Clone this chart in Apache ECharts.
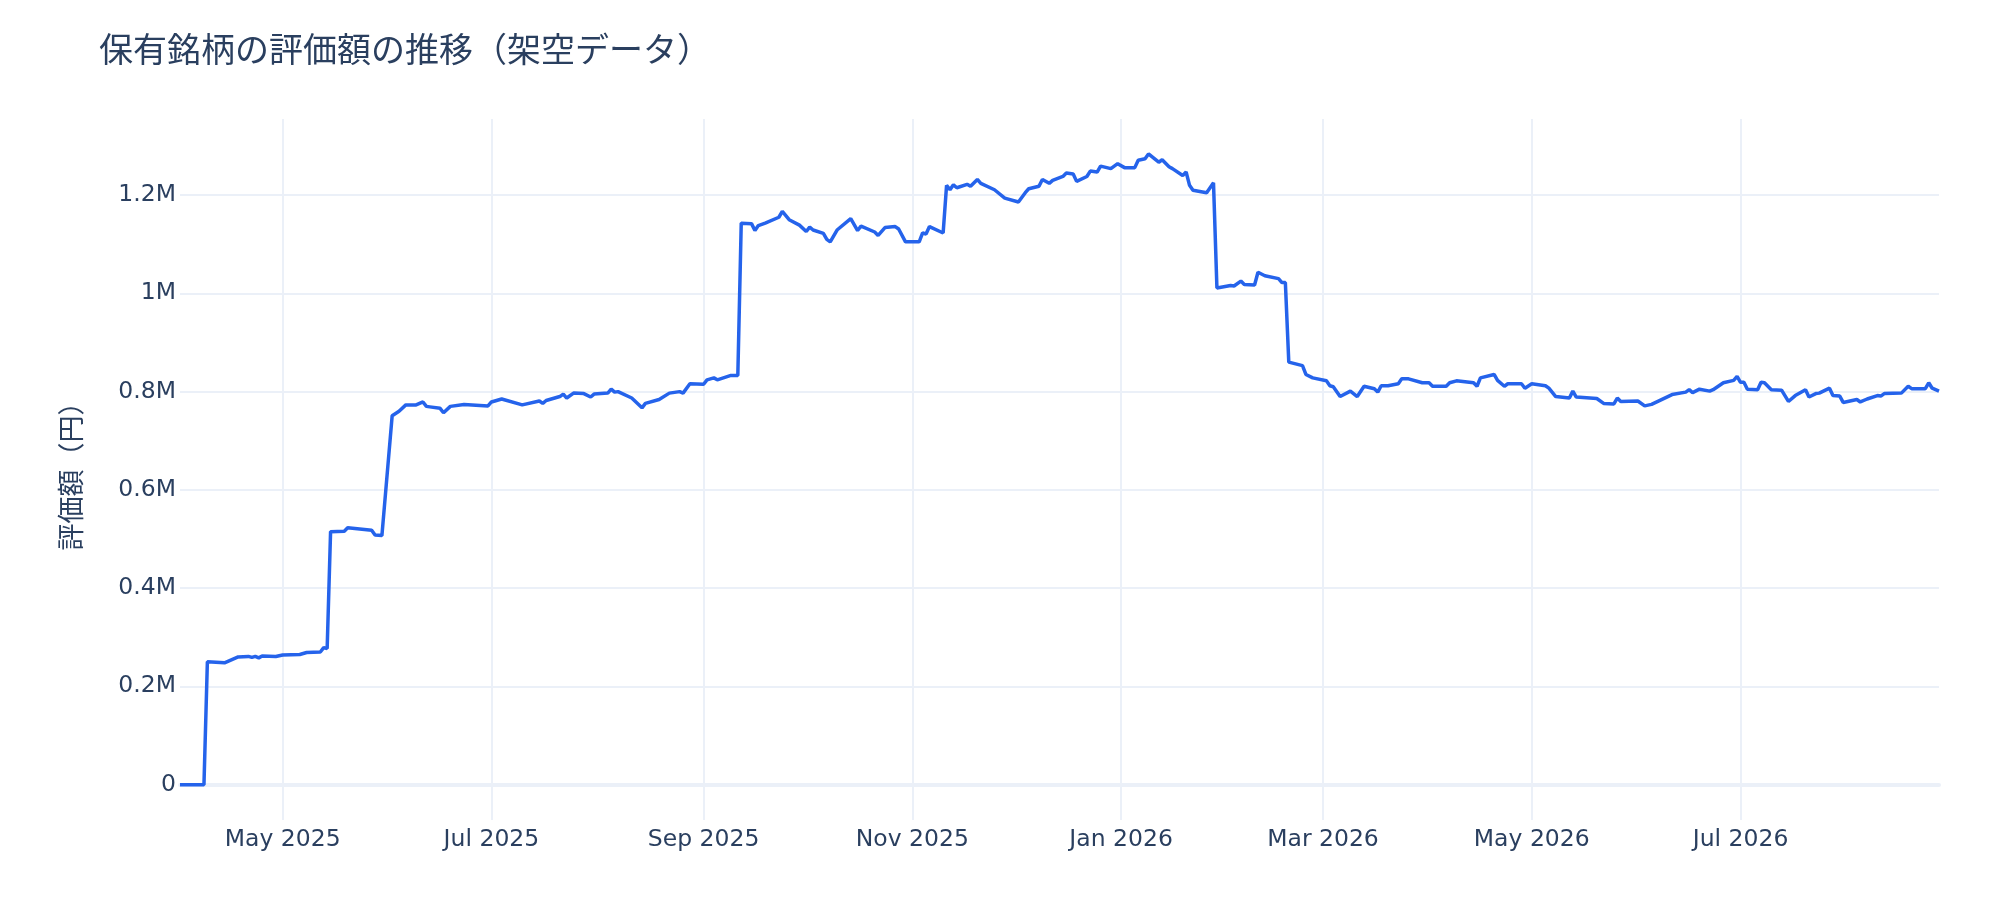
<!DOCTYPE html>
<html>
<head>
<meta charset="utf-8">
<script src="https://cdn.jsdelivr.net/npm/echarts@6/dist/echarts.min.js"></script>
<style>
html,body{margin:0;padding:0;background:#fff;}
#chart{width:2000px;height:920px;}
</style>
</head>
<body>
<div id="chart"></div>
<script>
const titleText = '保有銘柄の評価額の推移（架空データ）';
const yAxisName = '評価額（円）';

const dates = [
'2025-04-01','2025-04-08','2025-04-09','2025-04-14','2025-04-18','2025-04-21','2025-04-22','2025-04-23','2025-04-24','2025-04-25',
'2025-04-29','2025-05-01','2025-05-06','2025-05-08','2025-05-12','2025-05-13','2025-05-14','2025-05-15','2025-05-19','2025-05-20',
'2025-05-27','2025-05-28','2025-05-30','2025-06-02','2025-06-04','2025-06-06','2025-06-09','2025-06-11','2025-06-12','2025-06-13',
'2025-06-16','2025-06-17','2025-06-19','2025-06-23','2025-06-30','2025-07-01','2025-07-04','2025-07-10','2025-07-15','2025-07-16',
'2025-07-17','2025-07-21','2025-07-22','2025-07-23','2025-07-25','2025-07-28','2025-07-30','2025-07-31','2025-08-04','2025-08-05',
'2025-08-06','2025-08-07','2025-08-11','2025-08-14','2025-08-15','2025-08-19','2025-08-22','2025-08-25','2025-08-26','2025-08-28',
'2025-09-01','2025-09-02','2025-09-04','2025-09-05','2025-09-09','2025-09-11','2025-09-12','2025-09-15','2025-09-16','2025-09-17',
'2025-09-19','2025-09-23','2025-09-24','2025-09-26','2025-09-29','2025-10-01','2025-10-02','2025-10-03','2025-10-06','2025-10-07',
'2025-10-08','2025-10-10','2025-10-14','2025-10-16','2025-10-17','2025-10-21','2025-10-22','2025-10-24','2025-10-27','2025-10-28',
'2025-10-30','2025-11-03','2025-11-04','2025-11-05','2025-11-06','2025-11-10','2025-11-11','2025-11-12','2025-11-13','2025-11-14',
'2025-11-17','2025-11-18','2025-11-20','2025-11-21','2025-11-25','2025-11-28','2025-12-02','2025-12-04','2025-12-05','2025-12-08',
'2025-12-09','2025-12-11','2025-12-12','2025-12-15','2025-12-16','2025-12-18','2025-12-19','2025-12-22','2025-12-23','2025-12-25',
'2025-12-26','2025-12-29','2025-12-31','2026-01-02','2026-01-05','2026-01-06','2026-01-08','2026-01-09','2026-01-12','2026-01-13',
'2026-01-15','2026-01-16','2026-01-19','2026-01-20','2026-01-21','2026-01-22','2026-01-26','2026-01-27','2026-01-28','2026-01-29',
'2026-02-02','2026-02-03','2026-02-05','2026-02-06','2026-02-09','2026-02-10','2026-02-12','2026-02-16','2026-02-17','2026-02-18',
'2026-02-19','2026-02-23','2026-02-24','2026-02-26','2026-03-02','2026-03-03','2026-03-04','2026-03-06','2026-03-09','2026-03-11',
'2026-03-13','2026-03-16','2026-03-17','2026-03-18','2026-03-20','2026-03-23','2026-03-24','2026-03-26','2026-03-30','2026-04-01',
'2026-04-02','2026-04-06','2026-04-07','2026-04-09','2026-04-14','2026-04-15','2026-04-16','2026-04-20','2026-04-21','2026-04-23',
'2026-04-24','2026-04-28','2026-04-29','2026-05-01','2026-05-05','2026-05-06','2026-05-08','2026-05-12','2026-05-13','2026-05-14',
'2026-05-20','2026-05-22','2026-05-25','2026-05-26','2026-05-27','2026-06-01','2026-06-03','2026-06-05','2026-06-11','2026-06-15',
'2026-06-16','2026-06-17','2026-06-19','2026-06-22','2026-06-23','2026-06-26','2026-06-29','2026-06-30','2026-07-01','2026-07-02',
'2026-07-03','2026-07-06','2026-07-07','2026-07-08','2026-07-10','2026-07-13','2026-07-15','2026-07-17','2026-07-20','2026-07-21',
'2026-07-23','2026-07-24','2026-07-27','2026-07-28','2026-07-30','2026-07-31','2026-08-04','2026-08-05','2026-08-07','2026-08-10',
'2026-08-11','2026-08-12','2026-08-17','2026-08-19','2026-08-20','2026-08-24','2026-08-25','2026-08-26','2026-08-28'
];

const values = [
0,0,250000,248000,260000,261000,259000,261000,258000,262000,
261000,264000,265000,269000,270000,279000,277000,515000,516000,523000,
518000,508000,507000,751000,760000,773000,773000,779000,770000,769000,
766000,757000,770000,774000,771000,779000,785000,773000,781000,776000,
782000,790000,795000,787000,797000,796000,789000,795000,797000,805000,
799000,800000,787000,767000,776000,784000,797000,800000,797000,816000,
815000,824000,828000,824000,833000,833000,1143000,1142000,1128000,1138000,
1143000,1155000,1167000,1150000,1139000,1126000,1135000,1129000,1122000,1110000,
1105000,1129000,1152000,1128000,1137000,1125000,1118000,1134000,1136000,1131000,
1105000,1105000,1123000,1121000,1136000,1123000,1220000,1211000,1221000,1215000,
1222000,1218000,1232000,1224000,1211000,1194000,1186000,1205000,1213000,1218000,
1232000,1224000,1230000,1238000,1245000,1243000,1228000,1238000,1249000,1247000,
1259000,1254000,1264000,1256000,1256000,1271000,1274000,1284000,1267000,1272000,
1258000,1254000,1240000,1247000,1220000,1210000,1205000,1215000,1225000,1011000,
1016000,1015000,1025000,1018000,1017000,1043000,1036000,1030000,1022000,1022000,
860000,853000,835000,828000,822000,812000,810000,790000,801000,790000,
811000,806000,799000,812000,812000,816000,826000,826000,818000,818000,
811000,811000,818000,822000,818000,811000,828000,835000,823000,811000,
816000,816000,807000,816000,812000,807000,790000,787000,801000,789000,
786000,776000,775000,787000,780000,781000,771000,774000,794000,799000,
804000,798000,805000,801000,804000,818000,823000,831000,819000,819000,
805000,804000,819000,818000,804000,803000,780000,792000,804000,789000,
796000,797000,807000,792000,791000,778000,784000,779000,785000,792000,
791000,796000,797000,811000,806000,806000,818000,807000,801000
];

const yTickValues = [0,200000,400000,600000,800000,1000000,1200000];
const xMin = '2025-04-01';
const xMax = '2026-08-28';
const yMin = -72000;
const yMax = 1355000;

const MONTHS = ['Jan','Feb','Mar','Apr','May','Jun','Jul','Aug','Sep','Oct','Nov','Dec'];
const TICK_SPACING = 65 * 24 * 3600 * 1000;
function toTs(s){ const p = s.split('-').map(Number); return new Date(p[0], p[1]-1, p[2]).getTime(); }
function yLabel(v){ if (v === 0) return '0'; return (v/1000000).toString() + 'M'; }
function xLabel(v){
  const d = new Date(v);
  if (d.getDate() !== 1 || d.getMonth() % 2 !== 0) return '';
  return MONTHS[d.getMonth()] + ' ' + d.getFullYear();
}

const seriesData = dates.map((d,i)=>[toTs(d), values[i]]);

const chart = echarts.init(document.getElementById('chart'), null, {renderer:'canvas'});
const fontColor = '#2a3f5f';
const gridColor = '#EBF0F8';
const tickFont = '"DejaVu Sans", Verdana, sans-serif';
chart.setOption({
  backgroundColor: '#ffffff',
  animation: false,
  title: {
    text: titleText,
    left: 94, top: 27,
    textStyle: {color: fontColor, fontSize: 34, fontWeight: 'normal', fontFamily: '"Noto Sans CJK JP", "Open Sans", sans-serif'}
  },
  grid: {left: 180, right: 61, top: 119, bottom: 100, containLabel: false},
  xAxis: [{
    type: 'time',
    min: toTs(xMin), max: toTs(xMax),
    minInterval: TICK_SPACING, maxInterval: TICK_SPACING,
    axisLine: {show: false, onZero: false},
    axisTick: {show: false},
    axisLabel: {
      color: fontColor, fontSize: 23.5, fontFamily: tickFont, margin: 8,
      showMinLabel: false, showMaxLabel: false, hideOverlap: false,
      formatter: xLabel
    },
    splitLine: {show: true, showMinLine: false, showMaxLine: false, lineStyle: {color: gridColor, width: 2}}
  },{
    type: 'time',
    min: toTs(xMin), max: toTs(xMax),
    axisLine: {show: true, onZero: true, lineStyle: {color: gridColor, width: 4}},
    axisTick: {show: false},
    axisLabel: {show: false},
    splitLine: {show: false}
  }],
  yAxis: {
    type: 'value',
    min: yMin, max: yMax,
    name: yAxisName,
    nameLocation: 'middle',
    nameRotate: 90,
    nameGap: 96,
    nameTextStyle: {color: fontColor, fontSize: 27, fontFamily: '"Noto Sans CJK JP", sans-serif'},
    axisLine: {show: false},
    axisTick: {show: false, customValues: yTickValues},
    axisLabel: {
      customValues: yTickValues,
      color: fontColor, fontSize: 23.5, fontFamily: tickFont, margin: 4,
      formatter: yLabel
    },
    splitLine: {show: true, lineStyle: {color: gridColor, width: 2}}
  },
  series: [{
    type: 'line',
    xAxisIndex: 0,
    data: seriesData,
    showSymbol: false,
    symbol: 'none',
    lineStyle: {color: '#2563EB', width: 3.5},
    itemStyle: {color: '#2563EB'},
    z: 3
  }]
});
</script>
</body>
</html>
